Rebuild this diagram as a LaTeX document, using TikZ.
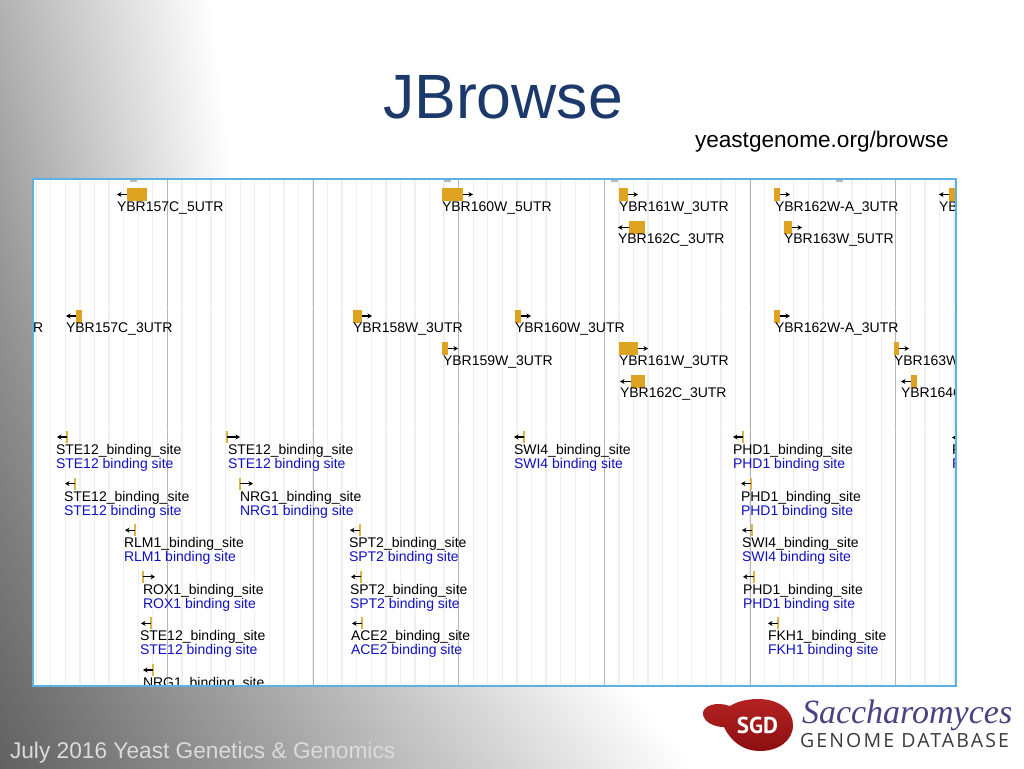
\documentclass[tikz,border=0pt]{standalone}
\usepackage{fontspec}
\setmainfont{Liberation Sans}
\newfontfamily\logoserif{Liberation Serif}
\newfontfamily\logosans{Open Sans}
\newfontfamily\logobadge{PT Sans}
\usepackage{tikz}
\usepackage{xcolor}
\usetikzlibrary{arrows.meta}
\definecolor{titleblue}{HTML}{1B3A6B}
\definecolor{panelblue}{HTML}{5FB0E2}
\definecolor{utrgold}{HTML}{DFA322}
\definecolor{ticktan}{HTML}{DDB544}
\definecolor{siteblue}{HTML}{1010C4}
\definecolor{gridminor}{HTML}{F0F0F0}
\definecolor{gridmajor}{HTML}{B6B6B6}
\definecolor{scalemark}{HTML}{B4BAC2}
\definecolor{sgdpurple}{HTML}{4B4183}
\definecolor{sgdgrey}{HTML}{3C3C3C}
\definecolor{sgdredhi}{HTML}{B32222}
\definecolor{sgdredlo}{HTML}{8C0F12}
\tikzset{x=1pt,y=-1pt,
    every node/.style={inner sep=0pt,outer sep=0pt},
    lbl/.style={anchor=base west,font=\fontsize{14}{14}\selectfont,text=black},
    sitelbl/.style={lbl,text=siteblue},
    utrbox/.style={draw=none,fill=utrgold,anchor=north west,minimum height=13pt},
    strand/.style={draw=black,line width=1.1pt,-{Stealth[length=4.5pt,width=5pt]}},
    sitetick/.style={draw=ticktan,line width=1.1pt},
    minorline/.style={draw=gridminor,line width=1.3pt},
    majorline/.style={draw=gridmajor,line width=1pt}}

% #1 name, #2 box x, #3 box width, #4 box top, #5 arrow end x, #6 label x, #7 baseline, #8 text
\newcommand{\utrleft}[8]{
    \node[utrbox,minimum width=#3pt] (#1) at (#2,#4) {};
    \coordinate (#1e) at (#5,#4+6.5);
    \draw[strand] (#1.west) -- (#1e);
    \node[lbl] (#1l) at (#6,#7) {#8};
}
\newcommand{\utrright}[8]{
    \node[utrbox,minimum width=#3pt] (#1) at (#2,#4) {};
    \coordinate (#1e) at (#5,#4+6.5);
    \draw[strand] (#1.east) -- (#1e);
    \node[lbl] (#1l) at (#6,#7) {#8};
}
% #1 name, #2 tick x, #3 arrow end x, #4 label x, #5 baseline, #6 factor
\newcommand{\sitetop}[6]{
    \coordinate (#1t) at (#2,#5-23.5);
    \coordinate (#1b) at (#2,#5-11.5);
    \coordinate (#1m) at (#2,#5-17.5);
    \coordinate (#1e) at (#3,#5-17.5);
    \draw[sitetick] (#1t) -- (#1b);
    \draw[strand] (#1m) -- (#1e);
    \node[lbl] (#1l) at (#4,#5) {#6\_binding\_site};
}
\newcommand{\site}[6]{
    \sitetop{#1}{#2}{#3}{#4}{#5}{#6}
    \node[sitelbl] (#1s) at (#4,#5+14) {#6 binding site};
}

\begin{document}
\begin{tikzpicture}
\useasboundingbox (0,0) rectangle (1024,768);
\fill[white] (0,0) rectangle (1024,768);

% slide background
\foreach \r in {0,4,...,764}{
    \pgfmathsetmacro{\g}{0.70-0.32*\r/768}
    \pgfmathsetmacro{\w}{min(695,\r<190 ? 212+0.12*\r : 235+0.8*(\r-190))}
    \definecolor{bgc}{gray}{\g}
    \shade[left color=bgc,right color=white] (0,\r) rectangle (\w,\r+5);
}

\node[anchor=base west,text=titleblue,font=\fontsize{62.6}{62.6}\selectfont] (title) at (383,118) {JBrowse};
\node[anchor=base west,font=\fontsize{22.6}{22.6}\selectfont] (url) at (695,147) {yeastgenome.org/browse};
\node[anchor=base west,text=white!86!black,font=\fontsize{22.7}{22.7}\selectfont] (footer) at (10,758) {July 2016 Yeast Genetics \& Genomics};

% browser panel
\fill[white] (33,179) rectangle (956,686);
\begin{scope}
\clip (33,179) rectangle (956,686);
\foreach \k in {-9,...,54}{
    \draw[minorline] (167.3+14.57*\k,179) -- (167.3+14.57*\k,686);
}
\foreach \k in {0,...,5}{
    \draw[majorline] (167.3+145.7*\k,179) -- (167.3+145.7*\k,686);
}
\draw[white,opacity=0.5,line width=1pt] (33,308) -- (956,308);
\draw[white,opacity=0.5,line width=1pt] (33,430) -- (956,430);
\foreach \m in {133.5,447,614.5,839.5}{
    \fill[scalemark] (\m-3.5,179) rectangle (\m+3.5,181.5);
}

% 5' and 3' UTR track
\utrleft{aa}{127}{20}{188}{117}{117}{211.7}{YBR157C\_5UTR}
\utrright{ab}{442}{21}{188}{473}{442}{211.7}{YBR160W\_5UTR}
\utrright{ac}{619}{9}{188}{638}{619}{211.7}{YBR161W\_3UTR}
\utrright{ad}{774}{6}{188}{790}{775}{211.7}{YBR162W-A\_3UTR}
\utrleft{ae}{949}{8}{188}{939}{939}{211.7}{YB}
\utrleft{af}{629}{16}{221}{618}{618}{243.5}{YBR162C\_3UTR}
\utrright{ag}{784}{8}{221}{802}{784}{243.5}{YBR163W\_5UTR}

% 3' UTR track
\node[lbl] (ba) at (33,332.7) {R};
\utrleft{bb}{76}{6}{309.5}{66}{66}{332.7}{YBR157C\_3UTR}
\utrright{bc}{353}{9}{309.5}{372}{353}{332.7}{YBR158W\_3UTR}
\utrright{bd}{515}{6}{309.5}{531}{515}{332.7}{YBR160W\_3UTR}
\utrright{be}{774}{6}{309.5}{790}{775}{332.7}{YBR162W-A\_3UTR}
\utrright{bf}{442}{6}{342}{458}{443}{365}{YBR159W\_3UTR}
\utrright{bg}{619}{19}{342}{648}{619}{365}{YBR161W\_3UTR}
\utrright{bh}{894}{5}{342}{909}{894}{365}{YBR163W}
\utrleft{bi}{631}{14}{375}{620}{620}{397.7}{YBR162C\_3UTR}
\utrleft{bj}{911}{6}{375}{901}{901}{397.7}{YBR164C}

% binding site track
\site{ca}{67}{57}{56}{454.5}{STE12}
\site{cb}{75}{65}{64}{501.1}{STE12}
\site{cc}{135}{125}{124}{547.7}{RLM1}
\site{cd}{143}{155}{143}{594.3}{ROX1}
\site{ce}{151}{141}{140}{640.9}{STE12}
\sitetop{cf}{153}{143}{143}{687.5}{NRG1}
\site{da}{227}{240}{228}{454.5}{STE12}
\site{db}{240}{253}{240}{501.1}{NRG1}
\site{dc}{360}{350}{349}{547.7}{SPT2}
\site{dd}{361}{351}{350}{594.3}{SPT2}
\site{de}{362}{352}{351}{640.9}{ACE2}
\site{ea}{524}{514}{514}{454.5}{SWI4}
\site{fa}{743}{733}{733}{454.5}{PHD1}
\site{fb}{751}{741}{741}{501.1}{PHD1}
\site{fc}{752}{742}{742}{547.7}{SWI4}
\site{fd}{754}{743}{743}{594.3}{PHD1}
\site{fe}{778}{768}{768}{640.9}{FKH1}
\coordinate (gat) at (962,437.5);
\coordinate (gae) at (952,437.5);
\draw[strand] (gat) -- (gae);
\node[lbl] (gal) at (952,454.5) {P};
\node[sitelbl] (gas) at (952,468.5) {P};
\end{scope}
\draw[panelblue,line width=1.2pt] (33,179) rectangle (956,686);

% SGD logo
\shade[top color=sgdredhi,bottom color=sgdredlo] (703,713)
    .. controls (703,706) and (716,701) .. (730,706)
    .. controls (738,701) and (748,699) .. (758,699)
    .. controls (780,699) and (793,711) .. (793,725)
    .. controls (793,741) and (778,751) .. (760,751)
    .. controls (742,751) and (730,740) .. (724,727)
    .. controls (714,727) and (703,722) .. (703,713) -- cycle;
\node[text=white,font=\logobadge\bfseries\fontsize{23}{23}\selectfont] (sgd) at (757.5,725) {SGD};
\node[anchor=base west,text=sgdpurple,font=\logoserif\itshape\fontsize{34}{34}\selectfont] (sacch) at (802,723) {Saccharomyces};
\node[anchor=base west,text=sgdgrey,font=\logosans\addfontfeature{LetterSpace=11}\fontsize{19.5}{19.5}\selectfont] (gdb) at (800,747) {GENOME DATABASE};
\end{tikzpicture}
\end{document}
